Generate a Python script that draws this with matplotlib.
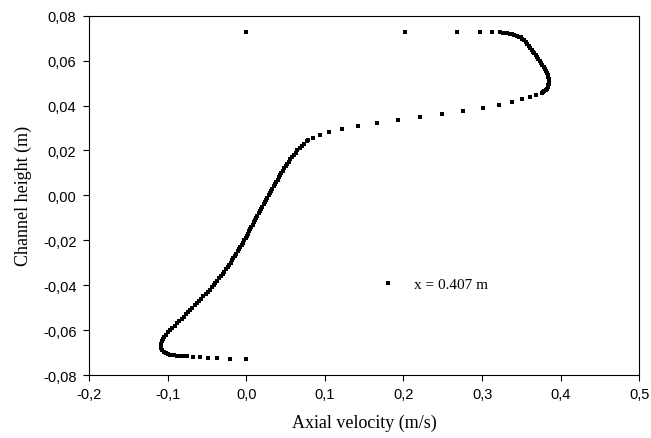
import matplotlib
matplotlib.use("Agg")
import matplotlib.pyplot as plt
from matplotlib.ticker import FixedLocator

# ---- data ----
# top wall row (sparse)
top_x = [0.0000, 0.2017, 0.2675, 0.2980, 0.3130, 0.3223]
top_y = [0.0729, 0.0729, 0.0728, 0.0728, 0.0728, 0.0727]

# upper jet (dense)
upper_x = [0.3260, 0.3290, 0.3320, 0.3350, 0.3380, 0.3410, 0.3440, 0.3468, 0.3492,
           0.3514, 0.3535, 0.3556, 0.3576, 0.3596, 0.3614, 0.3631, 0.3648, 0.3665,
           0.3682, 0.3699, 0.3716, 0.3733, 0.3750, 0.3767, 0.3783, 0.3798, 0.3812,
           0.3824, 0.3834, 0.3843, 0.3849, 0.3851, 0.3849, 0.3843, 0.3834, 0.3822,
           0.3808, 0.3792, 0.3776, 0.3760]
upper_y = [0.0725, 0.0723, 0.0721, 0.0719, 0.0717, 0.0714, 0.0711, 0.0707, 0.0703,
           0.0698, 0.0691, 0.0683, 0.0675, 0.0666, 0.0657, 0.0648, 0.0640, 0.0632,
           0.0624, 0.0615, 0.0606, 0.0597, 0.0588, 0.0579, 0.0570, 0.0561, 0.0552,
           0.0543, 0.0534, 0.0525, 0.0516, 0.0507, 0.0498, 0.0490, 0.0482, 0.0475,
           0.0469, 0.0464, 0.0459, 0.0454]

# shear layer (sparse)
mid_x = [0.3690, 0.3609, 0.3512, 0.3376, 0.3219, 0.3006, 0.2760, 0.2493, 0.2213,
         0.1932, 0.1660, 0.1418, 0.1219, 0.1057, 0.0939, 0.0850, 0.0790]
mid_y = [0.0446, 0.0438, 0.0427, 0.0414, 0.0401, 0.0388, 0.0374, 0.0361, 0.0347,
         0.0336, 0.0321, 0.0309, 0.0296, 0.0282, 0.0270, 0.0257, 0.0245]

# lower profile (dense)
lower_x = [0.0772, 0.0735, 0.0705, 0.0678, 0.0650, 0.0627, 0.0604, 0.0582, 0.0561,
           0.0542, 0.0523, 0.0504, 0.0485, 0.0466, 0.0447, 0.0430, 0.0414, 0.0398,
           0.0382, 0.0366, 0.0350, 0.0334, 0.0318, 0.0302, 0.0286, 0.0270, 0.0254,
           0.0238, 0.0222, 0.0206, 0.0190, 0.0174, 0.0158, 0.0142, 0.0126, 0.0111,
           0.0096, 0.0082, 0.0067, 0.0053, 0.0038, 0.0024, 0.0009, -0.0006, -0.0022,
           -0.0039, -0.0056, -0.0073, -0.0090, -0.0107, -0.0125, -0.0143, -0.0162,
           -0.0181, -0.0200, -0.0219, -0.0238, -0.0258, -0.0279, -0.0300, -0.0322,
           -0.0345, -0.0368, -0.0392, -0.0416, -0.0440, -0.0465, -0.0491, -0.0517,
           -0.0544, -0.0572, -0.0600, -0.0628, -0.0656, -0.0684, -0.0712, -0.0740,
           -0.0768, -0.0795, -0.0822, -0.0849, -0.0878, -0.0910, -0.0940, -0.0965,
           -0.0990, -0.1015, -0.1040, -0.1060, -0.1074, -0.1083, -0.1087, -0.1085,
           -0.1072, -0.1050, -0.1025, -0.0998, -0.0970, -0.0942, -0.0914, -0.0886,
           -0.0858, -0.0830, -0.0802]
lower_y = [0.0240, 0.0230, 0.0220, 0.0210, 0.0200, 0.0190, 0.0180, 0.0170, 0.0160,
           0.0150, 0.0140, 0.0130, 0.0120, 0.0110, 0.0100, 0.0090, 0.0080, 0.0070,
           0.0060, 0.0050, 0.0040, 0.0030, 0.0020, 0.0010, 0.0000, -0.0010, -0.0020,
           -0.0030, -0.0040, -0.0050, -0.0060, -0.0070, -0.0080, -0.0090, -0.0100,
           -0.0110, -0.0120, -0.0130, -0.0140, -0.0150, -0.0160, -0.0170, -0.0180,
           -0.0190, -0.0200, -0.0210, -0.0220, -0.0230, -0.0240, -0.0250, -0.0260,
           -0.0270, -0.0280, -0.0290, -0.0300, -0.0310, -0.0320, -0.0330, -0.0340,
           -0.0350, -0.0360, -0.0370, -0.0380, -0.0390, -0.0400, -0.0410, -0.0420,
           -0.0430, -0.0440, -0.0450, -0.0460, -0.0470, -0.0480, -0.0490, -0.0500,
           -0.0510, -0.0520, -0.0530, -0.0540, -0.0550, -0.0560, -0.0570, -0.0580,
           -0.0590, -0.0600, -0.0610, -0.0620, -0.0630, -0.0640, -0.0650, -0.0660,
           -0.0670, -0.0680, -0.0690, -0.0698, -0.0704, -0.0708, -0.0710, -0.0712,
           -0.0713, -0.0714, -0.0714, -0.0715, -0.0715]

# bottom wall row (sparse)
bot_x = [-0.0748, -0.0671, -0.0586, -0.0488, -0.0366, -0.0204, 0.0000]
bot_y = [-0.0717, -0.0719, -0.0722, -0.0724, -0.0726, -0.0728, -0.0730]

series_label = "x = 0.407 m"
x_ticks = [-0.2, -0.1, 0.0, 0.1, 0.2, 0.3, 0.4, 0.5]
y_ticks = [-0.08, -0.06, -0.04, -0.02, 0.00, 0.02, 0.04, 0.06, 0.08]
x_ticklabels = ["-0,2", "-0,1", "0,0", "0,1", "0,2", "0,3", "0,4", "0,5"]
y_ticklabels = ["-0,08", "-0,06", "-0,04", "-0,02", "0,00", "0,02", "0,04", "0,06", "0,08"]

xs = top_x + upper_x + mid_x + lower_x + bot_x
ys = top_y + upper_y + mid_y + lower_y + bot_y

fig = plt.figure(figsize=(6.51, 4.39), dpi=100)
ax = fig.add_axes([89/651, 1 - 376/439, (639.3 - 89)/651, (376 - 16.7)/439])

ax.plot(xs, ys, linestyle="none", marker="s", markersize=3.3, color="black",
        markeredgewidth=0, label=series_label)

ax.set_xlim(-0.2, 0.5)
ax.set_ylim(-0.08, 0.08)
ax.xaxis.set_major_locator(FixedLocator(x_ticks))
ax.yaxis.set_major_locator(FixedLocator(y_ticks))
ax.set_xticklabels(x_ticklabels, fontfamily="Liberation Sans", fontsize=10.5)
ax.set_yticklabels(y_ticklabels, fontfamily="Liberation Sans", fontsize=10.5)
ax.tick_params(direction="out", length=4, width=0.8, color="black", pad=5,
               top=False, right=False)
for sp in ax.spines.values():
    sp.set_linewidth(0.8)
    sp.set_color("black")

ax.set_xlabel("Axial velocity (m/s)", fontfamily="Liberation Serif", fontsize=13, labelpad=9)
ax.set_ylabel("Channel height (m)", fontfamily="Liberation Serif", fontsize=13, labelpad=8)

leg = ax.legend(loc="center left", bbox_to_anchor=(0.508, 0.252), frameon=False,
                prop={"family": "Liberation Serif", "size": 11},
                handlelength=0.8, handletextpad=1.3, markerscale=1.0)

fig.savefig("out.png", dpi=100)
